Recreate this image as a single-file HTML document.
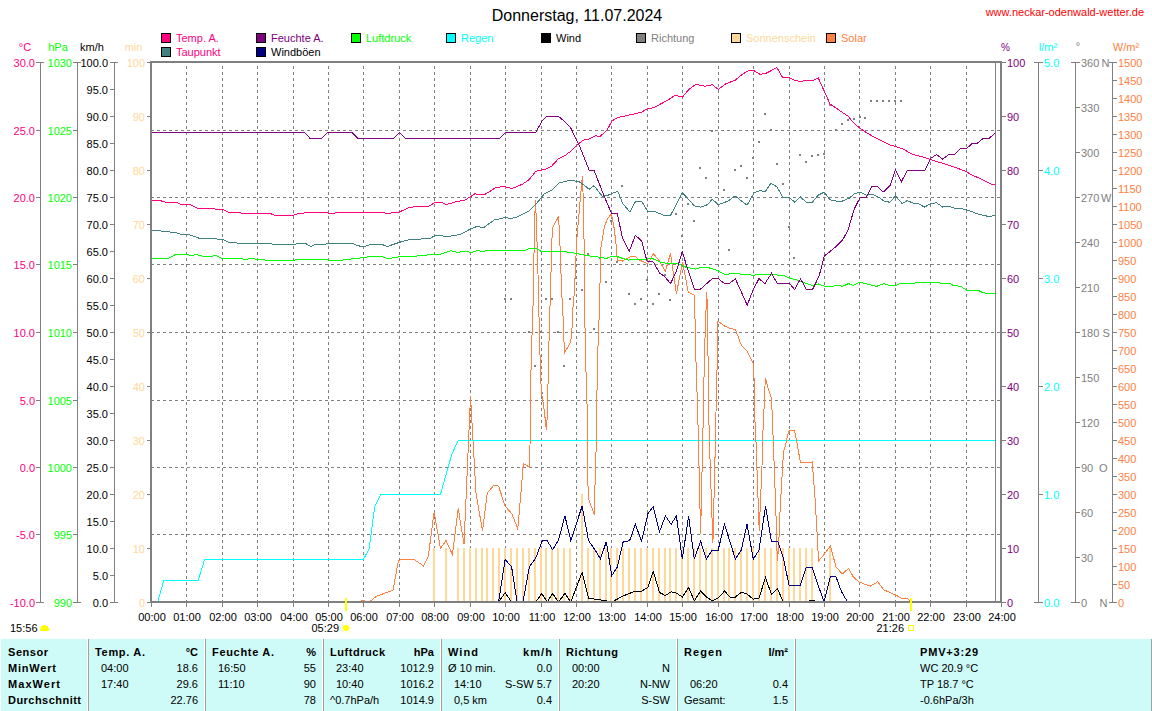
<!DOCTYPE html>
<html><head><meta charset="utf-8"><style>
html,body{margin:0;padding:0;background:#fff;width:1152px;height:711px;overflow:hidden}
svg{display:block;font-family:"Liberation Sans", sans-serif}
</style></head><body>
<svg width="1152" height="711" viewBox="0 0 1152 711">
<text x="577" y="21" fill="#000" text-anchor="middle" font-size="16" font-weight="normal" >Donnerstag, 11.07.2024</text>
<text x="1144" y="16" fill="#FF0000" text-anchor="end" font-size="11" font-weight="normal" >www.neckar-odenwald-wetter.de</text>
<rect x="161" y="33" width="10" height="10" fill="#000"/>
<rect x="162" y="34" width="8" height="8" fill="#FF0080"/>
<text x="176" y="42" fill="#FF0080" text-anchor="start" font-size="11" font-weight="normal" >Temp. A.</text>
<rect x="161" y="47" width="10" height="10" fill="#000"/>
<rect x="162" y="48" width="8" height="8" fill="#408080"/>
<text x="176" y="56" fill="#FF0080" text-anchor="start" font-size="11" font-weight="normal" >Taupunkt</text>
<rect x="256" y="33" width="10" height="10" fill="#000"/>
<rect x="257" y="34" width="8" height="8" fill="#800080"/>
<text x="271" y="42" fill="#800080" text-anchor="start" font-size="11" font-weight="normal" >Feuchte A.</text>
<rect x="256" y="47" width="10" height="10" fill="#000"/>
<rect x="257" y="48" width="8" height="8" fill="#000080"/>
<text x="271" y="56" fill="#000" text-anchor="start" font-size="11" font-weight="normal" >Windböen</text>
<rect x="351" y="33" width="10" height="10" fill="#000"/>
<rect x="352" y="34" width="8" height="8" fill="#00FF00"/>
<text x="366" y="42" fill="#00FF00" text-anchor="start" font-size="11" font-weight="normal" >Luftdruck</text>
<rect x="446" y="33" width="10" height="10" fill="#000"/>
<rect x="447" y="34" width="8" height="8" fill="#00FFFF"/>
<text x="461" y="42" fill="#00FFFF" text-anchor="start" font-size="11" font-weight="normal" >Regen</text>
<rect x="541" y="33" width="10" height="10" fill="#000"/>
<rect x="542" y="34" width="8" height="8" fill="#000"/>
<text x="556" y="42" fill="#000" text-anchor="start" font-size="11" font-weight="normal" >Wind</text>
<rect x="636" y="33" width="10" height="10" fill="#000"/>
<rect x="637" y="34" width="8" height="8" fill="#808080"/>
<text x="651" y="42" fill="#808080" text-anchor="start" font-size="11" font-weight="normal" >Richtung</text>
<rect x="731" y="33" width="10" height="10" fill="#000"/>
<rect x="732" y="34" width="8" height="8" fill="#FFD898"/>
<text x="746" y="42" fill="#FFD898" text-anchor="start" font-size="11" font-weight="normal" >Sonnenschein</text>
<rect x="826" y="33" width="10" height="10" fill="#000"/>
<rect x="827" y="34" width="8" height="8" fill="#FF8040"/>
<text x="841" y="42" fill="#FF8040" text-anchor="start" font-size="11" font-weight="normal" >Solar</text>
<text x="25" y="51" fill="#FF0080" text-anchor="middle" font-size="11" font-weight="normal" >°C</text>
<text x="58" y="51" fill="#00FF00" text-anchor="middle" font-size="11" font-weight="normal" >hPa</text>
<text x="92" y="51" fill="#000" text-anchor="middle" font-size="11" font-weight="normal" >km/h</text>
<text x="133.5" y="51" fill="#FFD898" text-anchor="middle" font-size="11" font-weight="normal" >min</text>
<text x="1005.5" y="51" fill="#800080" text-anchor="middle" font-size="10" font-weight="normal" >%</text>
<text x="1048" y="51" fill="#00FFFF" text-anchor="middle" font-size="11" font-weight="normal" >l/m²</text>
<text x="1078" y="50" fill="#808080" text-anchor="middle" font-size="11" font-weight="normal" >°</text>
<text x="1126" y="51" fill="#FF8040" text-anchor="middle" font-size="11" font-weight="normal" >W/m²</text>
<rect x="40" y="62" width="1" height="541" fill="#808080"/>
<rect x="36" y="602" width="5" height="1" fill="#808080"/>
<text x="35" y="607" fill="#FF0080" text-anchor="end" font-size="11" font-weight="normal" >-10.0</text>
<rect x="36" y="534" width="5" height="1" fill="#808080"/>
<text x="35" y="539" fill="#FF0080" text-anchor="end" font-size="11" font-weight="normal" >-5.0</text>
<rect x="36" y="467" width="5" height="1" fill="#808080"/>
<text x="35" y="472" fill="#FF0080" text-anchor="end" font-size="11" font-weight="normal" >0.0</text>
<rect x="36" y="400" width="5" height="1" fill="#808080"/>
<text x="35" y="405" fill="#FF0080" text-anchor="end" font-size="11" font-weight="normal" >5.0</text>
<rect x="36" y="332" width="5" height="1" fill="#808080"/>
<text x="35" y="337" fill="#FF0080" text-anchor="end" font-size="11" font-weight="normal" >10.0</text>
<rect x="36" y="264" width="5" height="1" fill="#808080"/>
<text x="35" y="269" fill="#FF0080" text-anchor="end" font-size="11" font-weight="normal" >15.0</text>
<rect x="36" y="197" width="5" height="1" fill="#808080"/>
<text x="35" y="202" fill="#FF0080" text-anchor="end" font-size="11" font-weight="normal" >20.0</text>
<rect x="36" y="130" width="5" height="1" fill="#808080"/>
<text x="35" y="135" fill="#FF0080" text-anchor="end" font-size="11" font-weight="normal" >25.0</text>
<rect x="36" y="62" width="5" height="1" fill="#808080"/>
<text x="35" y="67" fill="#FF0080" text-anchor="end" font-size="11" font-weight="normal" >30.0</text>
<rect x="40" y="62" width="4" height="1" fill="#808080"/>
<rect x="40" y="602" width="4" height="1" fill="#808080"/>
<rect x="77" y="62" width="1" height="541" fill="#808080"/>
<rect x="73" y="602" width="5" height="1" fill="#808080"/>
<text x="72" y="607" fill="#00FF00" text-anchor="end" font-size="11" font-weight="normal" >990</text>
<rect x="73" y="534" width="5" height="1" fill="#808080"/>
<text x="72" y="539" fill="#00FF00" text-anchor="end" font-size="11" font-weight="normal" >995</text>
<rect x="73" y="467" width="5" height="1" fill="#808080"/>
<text x="72" y="472" fill="#00FF00" text-anchor="end" font-size="11" font-weight="normal" >1000</text>
<rect x="73" y="400" width="5" height="1" fill="#808080"/>
<text x="72" y="405" fill="#00FF00" text-anchor="end" font-size="11" font-weight="normal" >1005</text>
<rect x="73" y="332" width="5" height="1" fill="#808080"/>
<text x="72" y="337" fill="#00FF00" text-anchor="end" font-size="11" font-weight="normal" >1010</text>
<rect x="73" y="264" width="5" height="1" fill="#808080"/>
<text x="72" y="269" fill="#00FF00" text-anchor="end" font-size="11" font-weight="normal" >1015</text>
<rect x="73" y="197" width="5" height="1" fill="#808080"/>
<text x="72" y="202" fill="#00FF00" text-anchor="end" font-size="11" font-weight="normal" >1020</text>
<rect x="73" y="130" width="5" height="1" fill="#808080"/>
<text x="72" y="135" fill="#00FF00" text-anchor="end" font-size="11" font-weight="normal" >1025</text>
<rect x="73" y="62" width="5" height="1" fill="#808080"/>
<text x="72" y="67" fill="#00FF00" text-anchor="end" font-size="11" font-weight="normal" >1030</text>
<rect x="77" y="62" width="4" height="1" fill="#808080"/>
<rect x="77" y="602" width="4" height="1" fill="#808080"/>
<rect x="114" y="62" width="1" height="541" fill="#808080"/>
<rect x="110" y="602" width="5" height="1" fill="#808080"/>
<text x="108" y="607" fill="#000" text-anchor="end" font-size="11" font-weight="normal" >0.0</text>
<rect x="110" y="575" width="5" height="1" fill="#808080"/>
<text x="108" y="580" fill="#000" text-anchor="end" font-size="11" font-weight="normal" >5.0</text>
<rect x="110" y="548" width="5" height="1" fill="#808080"/>
<text x="108" y="553" fill="#000" text-anchor="end" font-size="11" font-weight="normal" >10.0</text>
<rect x="110" y="521" width="5" height="1" fill="#808080"/>
<text x="108" y="526" fill="#000" text-anchor="end" font-size="11" font-weight="normal" >15.0</text>
<rect x="110" y="494" width="5" height="1" fill="#808080"/>
<text x="108" y="499" fill="#000" text-anchor="end" font-size="11" font-weight="normal" >20.0</text>
<rect x="110" y="467" width="5" height="1" fill="#808080"/>
<text x="108" y="472" fill="#000" text-anchor="end" font-size="11" font-weight="normal" >25.0</text>
<rect x="110" y="440" width="5" height="1" fill="#808080"/>
<text x="108" y="445" fill="#000" text-anchor="end" font-size="11" font-weight="normal" >30.0</text>
<rect x="110" y="413" width="5" height="1" fill="#808080"/>
<text x="108" y="418" fill="#000" text-anchor="end" font-size="11" font-weight="normal" >35.0</text>
<rect x="110" y="386" width="5" height="1" fill="#808080"/>
<text x="108" y="391" fill="#000" text-anchor="end" font-size="11" font-weight="normal" >40.0</text>
<rect x="110" y="359" width="5" height="1" fill="#808080"/>
<text x="108" y="364" fill="#000" text-anchor="end" font-size="11" font-weight="normal" >45.0</text>
<rect x="110" y="332" width="5" height="1" fill="#808080"/>
<text x="108" y="337" fill="#000" text-anchor="end" font-size="11" font-weight="normal" >50.0</text>
<rect x="110" y="305" width="5" height="1" fill="#808080"/>
<text x="108" y="310" fill="#000" text-anchor="end" font-size="11" font-weight="normal" >55.0</text>
<rect x="110" y="278" width="5" height="1" fill="#808080"/>
<text x="108" y="283" fill="#000" text-anchor="end" font-size="11" font-weight="normal" >60.0</text>
<rect x="110" y="251" width="5" height="1" fill="#808080"/>
<text x="108" y="256" fill="#000" text-anchor="end" font-size="11" font-weight="normal" >65.0</text>
<rect x="110" y="224" width="5" height="1" fill="#808080"/>
<text x="108" y="229" fill="#000" text-anchor="end" font-size="11" font-weight="normal" >70.0</text>
<rect x="110" y="197" width="5" height="1" fill="#808080"/>
<text x="108" y="202" fill="#000" text-anchor="end" font-size="11" font-weight="normal" >75.0</text>
<rect x="110" y="170" width="5" height="1" fill="#808080"/>
<text x="108" y="175" fill="#000" text-anchor="end" font-size="11" font-weight="normal" >80.0</text>
<rect x="110" y="143" width="5" height="1" fill="#808080"/>
<text x="108" y="148" fill="#000" text-anchor="end" font-size="11" font-weight="normal" >85.0</text>
<rect x="110" y="116" width="5" height="1" fill="#808080"/>
<text x="108" y="121" fill="#000" text-anchor="end" font-size="11" font-weight="normal" >90.0</text>
<rect x="110" y="89" width="5" height="1" fill="#808080"/>
<text x="108" y="94" fill="#000" text-anchor="end" font-size="11" font-weight="normal" >95.0</text>
<rect x="110" y="62" width="5" height="1" fill="#808080"/>
<text x="108" y="67" fill="#000" text-anchor="end" font-size="11" font-weight="normal" >100.0</text>
<rect x="114" y="62" width="4" height="1" fill="#808080"/>
<rect x="114" y="602" width="4" height="1" fill="#808080"/>
<rect x="147" y="602" width="4" height="1" fill="#808080"/>
<text x="145" y="607" fill="#FFD898" text-anchor="end" font-size="11" font-weight="normal" >0</text>
<rect x="147" y="548" width="4" height="1" fill="#808080"/>
<text x="145" y="553" fill="#FFD898" text-anchor="end" font-size="11" font-weight="normal" >10</text>
<rect x="147" y="494" width="4" height="1" fill="#808080"/>
<text x="145" y="499" fill="#FFD898" text-anchor="end" font-size="11" font-weight="normal" >20</text>
<rect x="147" y="440" width="4" height="1" fill="#808080"/>
<text x="145" y="445" fill="#FFD898" text-anchor="end" font-size="11" font-weight="normal" >30</text>
<rect x="147" y="386" width="4" height="1" fill="#808080"/>
<text x="145" y="391" fill="#FFD898" text-anchor="end" font-size="11" font-weight="normal" >40</text>
<rect x="147" y="332" width="4" height="1" fill="#808080"/>
<text x="145" y="337" fill="#FFD898" text-anchor="end" font-size="11" font-weight="normal" >50</text>
<rect x="147" y="278" width="4" height="1" fill="#808080"/>
<text x="145" y="283" fill="#FFD898" text-anchor="end" font-size="11" font-weight="normal" >60</text>
<rect x="147" y="224" width="4" height="1" fill="#808080"/>
<text x="145" y="229" fill="#FFD898" text-anchor="end" font-size="11" font-weight="normal" >70</text>
<rect x="147" y="170" width="4" height="1" fill="#808080"/>
<text x="145" y="175" fill="#FFD898" text-anchor="end" font-size="11" font-weight="normal" >80</text>
<rect x="147" y="116" width="4" height="1" fill="#808080"/>
<text x="145" y="121" fill="#FFD898" text-anchor="end" font-size="11" font-weight="normal" >90</text>
<rect x="147" y="62" width="4" height="1" fill="#808080"/>
<text x="145" y="67" fill="#FFD898" text-anchor="end" font-size="11" font-weight="normal" >100</text>
<rect x="1001" y="602" width="5" height="1" fill="#808080"/>
<text x="1007" y="607" fill="#800080" text-anchor="start" font-size="11" font-weight="normal" >0</text>
<rect x="1001" y="548" width="5" height="1" fill="#808080"/>
<text x="1007" y="553" fill="#800080" text-anchor="start" font-size="11" font-weight="normal" >10</text>
<rect x="1001" y="494" width="5" height="1" fill="#808080"/>
<text x="1007" y="499" fill="#800080" text-anchor="start" font-size="11" font-weight="normal" >20</text>
<rect x="1001" y="440" width="5" height="1" fill="#808080"/>
<text x="1007" y="445" fill="#800080" text-anchor="start" font-size="11" font-weight="normal" >30</text>
<rect x="1001" y="386" width="5" height="1" fill="#808080"/>
<text x="1007" y="391" fill="#800080" text-anchor="start" font-size="11" font-weight="normal" >40</text>
<rect x="1001" y="332" width="5" height="1" fill="#808080"/>
<text x="1007" y="337" fill="#800080" text-anchor="start" font-size="11" font-weight="normal" >50</text>
<rect x="1001" y="278" width="5" height="1" fill="#808080"/>
<text x="1007" y="283" fill="#800080" text-anchor="start" font-size="11" font-weight="normal" >60</text>
<rect x="1001" y="224" width="5" height="1" fill="#808080"/>
<text x="1007" y="229" fill="#800080" text-anchor="start" font-size="11" font-weight="normal" >70</text>
<rect x="1001" y="170" width="5" height="1" fill="#808080"/>
<text x="1007" y="175" fill="#800080" text-anchor="start" font-size="11" font-weight="normal" >80</text>
<rect x="1001" y="116" width="5" height="1" fill="#808080"/>
<text x="1007" y="121" fill="#800080" text-anchor="start" font-size="11" font-weight="normal" >90</text>
<rect x="1001" y="62" width="5" height="1" fill="#808080"/>
<text x="1007" y="67" fill="#800080" text-anchor="start" font-size="11" font-weight="normal" >100</text>
<rect x="1038" y="62" width="1" height="541" fill="#808080"/>
<rect x="1038" y="602" width="5" height="1" fill="#808080"/>
<text x="1044" y="607" fill="#00FFFF" text-anchor="start" font-size="11" font-weight="normal" >0.0</text>
<rect x="1038" y="494" width="5" height="1" fill="#808080"/>
<text x="1044" y="499" fill="#00FFFF" text-anchor="start" font-size="11" font-weight="normal" >1.0</text>
<rect x="1038" y="386" width="5" height="1" fill="#808080"/>
<text x="1044" y="391" fill="#00FFFF" text-anchor="start" font-size="11" font-weight="normal" >2.0</text>
<rect x="1038" y="278" width="5" height="1" fill="#808080"/>
<text x="1044" y="283" fill="#00FFFF" text-anchor="start" font-size="11" font-weight="normal" >3.0</text>
<rect x="1038" y="170" width="5" height="1" fill="#808080"/>
<text x="1044" y="175" fill="#00FFFF" text-anchor="start" font-size="11" font-weight="normal" >4.0</text>
<rect x="1038" y="62" width="5" height="1" fill="#808080"/>
<text x="1044" y="67" fill="#00FFFF" text-anchor="start" font-size="11" font-weight="normal" >5.0</text>
<rect x="1034" y="62" width="4" height="1" fill="#808080"/>
<rect x="1034" y="602" width="4" height="1" fill="#808080"/>
<rect x="1075" y="62" width="1" height="541" fill="#808080"/>
<rect x="1075" y="602" width="5" height="1" fill="#808080"/>
<text x="1081" y="607" fill="#808080" text-anchor="start" font-size="11" font-weight="normal" >0</text>
<text x="1099.5" y="607" fill="#808080" text-anchor="start" font-size="11" font-weight="normal" >N</text>
<rect x="1075" y="557" width="5" height="1" fill="#808080"/>
<text x="1081" y="562" fill="#808080" text-anchor="start" font-size="11" font-weight="normal" >30</text>
<rect x="1075" y="512" width="5" height="1" fill="#808080"/>
<text x="1081" y="517" fill="#808080" text-anchor="start" font-size="11" font-weight="normal" >60</text>
<rect x="1075" y="467" width="5" height="1" fill="#808080"/>
<text x="1081" y="472" fill="#808080" text-anchor="start" font-size="11" font-weight="normal" >90</text>
<text x="1099" y="472" fill="#808080" text-anchor="start" font-size="11" font-weight="normal" >O</text>
<rect x="1075" y="422" width="5" height="1" fill="#808080"/>
<text x="1081" y="427" fill="#808080" text-anchor="start" font-size="11" font-weight="normal" >120</text>
<rect x="1075" y="377" width="5" height="1" fill="#808080"/>
<text x="1081" y="382" fill="#808080" text-anchor="start" font-size="11" font-weight="normal" >150</text>
<rect x="1075" y="332" width="5" height="1" fill="#808080"/>
<text x="1081" y="337" fill="#808080" text-anchor="start" font-size="11" font-weight="normal" >180</text>
<text x="1102.5" y="337" fill="#808080" text-anchor="start" font-size="11" font-weight="normal" >S</text>
<rect x="1075" y="287" width="5" height="1" fill="#808080"/>
<text x="1081" y="292" fill="#808080" text-anchor="start" font-size="11" font-weight="normal" >210</text>
<rect x="1075" y="242" width="5" height="1" fill="#808080"/>
<text x="1081" y="247" fill="#808080" text-anchor="start" font-size="11" font-weight="normal" >240</text>
<rect x="1075" y="197" width="5" height="1" fill="#808080"/>
<text x="1081" y="202" fill="#808080" text-anchor="start" font-size="11" font-weight="normal" >270</text>
<text x="1101" y="202" fill="#808080" text-anchor="start" font-size="11" font-weight="normal" >W</text>
<rect x="1075" y="152" width="5" height="1" fill="#808080"/>
<text x="1081" y="157" fill="#808080" text-anchor="start" font-size="11" font-weight="normal" >300</text>
<rect x="1075" y="107" width="5" height="1" fill="#808080"/>
<text x="1081" y="112" fill="#808080" text-anchor="start" font-size="11" font-weight="normal" >330</text>
<rect x="1075" y="62" width="5" height="1" fill="#808080"/>
<text x="1081" y="67" fill="#808080" text-anchor="start" font-size="11" font-weight="normal" >360</text>
<text x="1101.5" y="67" fill="#808080" text-anchor="start" font-size="11" font-weight="normal" >N</text>
<rect x="1071" y="62" width="4" height="1" fill="#808080"/>
<rect x="1071" y="602" width="4" height="1" fill="#808080"/>
<rect x="1112" y="62" width="1" height="541" fill="#808080"/>
<rect x="1112" y="602" width="5" height="1" fill="#808080"/>
<text x="1118" y="607" fill="#FF8040" text-anchor="start" font-size="11" font-weight="normal" >0</text>
<rect x="1112" y="584" width="5" height="1" fill="#808080"/>
<text x="1118" y="589" fill="#FF8040" text-anchor="start" font-size="11" font-weight="normal" >50</text>
<rect x="1112" y="566" width="5" height="1" fill="#808080"/>
<text x="1118" y="571" fill="#FF8040" text-anchor="start" font-size="11" font-weight="normal" >100</text>
<rect x="1112" y="548" width="5" height="1" fill="#808080"/>
<text x="1118" y="553" fill="#FF8040" text-anchor="start" font-size="11" font-weight="normal" >150</text>
<rect x="1112" y="530" width="5" height="1" fill="#808080"/>
<text x="1118" y="535" fill="#FF8040" text-anchor="start" font-size="11" font-weight="normal" >200</text>
<rect x="1112" y="512" width="5" height="1" fill="#808080"/>
<text x="1118" y="517" fill="#FF8040" text-anchor="start" font-size="11" font-weight="normal" >250</text>
<rect x="1112" y="494" width="5" height="1" fill="#808080"/>
<text x="1118" y="499" fill="#FF8040" text-anchor="start" font-size="11" font-weight="normal" >300</text>
<rect x="1112" y="476" width="5" height="1" fill="#808080"/>
<text x="1118" y="481" fill="#FF8040" text-anchor="start" font-size="11" font-weight="normal" >350</text>
<rect x="1112" y="458" width="5" height="1" fill="#808080"/>
<text x="1118" y="463" fill="#FF8040" text-anchor="start" font-size="11" font-weight="normal" >400</text>
<rect x="1112" y="440" width="5" height="1" fill="#808080"/>
<text x="1118" y="445" fill="#FF8040" text-anchor="start" font-size="11" font-weight="normal" >450</text>
<rect x="1112" y="422" width="5" height="1" fill="#808080"/>
<text x="1118" y="427" fill="#FF8040" text-anchor="start" font-size="11" font-weight="normal" >500</text>
<rect x="1112" y="404" width="5" height="1" fill="#808080"/>
<text x="1118" y="409" fill="#FF8040" text-anchor="start" font-size="11" font-weight="normal" >550</text>
<rect x="1112" y="386" width="5" height="1" fill="#808080"/>
<text x="1118" y="391" fill="#FF8040" text-anchor="start" font-size="11" font-weight="normal" >600</text>
<rect x="1112" y="368" width="5" height="1" fill="#808080"/>
<text x="1118" y="373" fill="#FF8040" text-anchor="start" font-size="11" font-weight="normal" >650</text>
<rect x="1112" y="350" width="5" height="1" fill="#808080"/>
<text x="1118" y="355" fill="#FF8040" text-anchor="start" font-size="11" font-weight="normal" >700</text>
<rect x="1112" y="332" width="5" height="1" fill="#808080"/>
<text x="1118" y="337" fill="#FF8040" text-anchor="start" font-size="11" font-weight="normal" >750</text>
<rect x="1112" y="314" width="5" height="1" fill="#808080"/>
<text x="1118" y="319" fill="#FF8040" text-anchor="start" font-size="11" font-weight="normal" >800</text>
<rect x="1112" y="296" width="5" height="1" fill="#808080"/>
<text x="1118" y="301" fill="#FF8040" text-anchor="start" font-size="11" font-weight="normal" >850</text>
<rect x="1112" y="278" width="5" height="1" fill="#808080"/>
<text x="1118" y="283" fill="#FF8040" text-anchor="start" font-size="11" font-weight="normal" >900</text>
<rect x="1112" y="260" width="5" height="1" fill="#808080"/>
<text x="1118" y="265" fill="#FF8040" text-anchor="start" font-size="11" font-weight="normal" >950</text>
<rect x="1112" y="242" width="5" height="1" fill="#808080"/>
<text x="1118" y="247" fill="#FF8040" text-anchor="start" font-size="11" font-weight="normal" >1000</text>
<rect x="1112" y="224" width="5" height="1" fill="#808080"/>
<text x="1118" y="229" fill="#FF8040" text-anchor="start" font-size="11" font-weight="normal" >1050</text>
<rect x="1112" y="206" width="5" height="1" fill="#808080"/>
<text x="1118" y="211" fill="#FF8040" text-anchor="start" font-size="11" font-weight="normal" >1100</text>
<rect x="1112" y="188" width="5" height="1" fill="#808080"/>
<text x="1118" y="193" fill="#FF8040" text-anchor="start" font-size="11" font-weight="normal" >1150</text>
<rect x="1112" y="170" width="5" height="1" fill="#808080"/>
<text x="1118" y="175" fill="#FF8040" text-anchor="start" font-size="11" font-weight="normal" >1200</text>
<rect x="1112" y="152" width="5" height="1" fill="#808080"/>
<text x="1118" y="157" fill="#FF8040" text-anchor="start" font-size="11" font-weight="normal" >1250</text>
<rect x="1112" y="134" width="5" height="1" fill="#808080"/>
<text x="1118" y="139" fill="#FF8040" text-anchor="start" font-size="11" font-weight="normal" >1300</text>
<rect x="1112" y="116" width="5" height="1" fill="#808080"/>
<text x="1118" y="121" fill="#FF8040" text-anchor="start" font-size="11" font-weight="normal" >1350</text>
<rect x="1112" y="98" width="5" height="1" fill="#808080"/>
<text x="1118" y="103" fill="#FF8040" text-anchor="start" font-size="11" font-weight="normal" >1400</text>
<rect x="1112" y="80" width="5" height="1" fill="#808080"/>
<text x="1118" y="85" fill="#FF8040" text-anchor="start" font-size="11" font-weight="normal" >1450</text>
<rect x="1112" y="62" width="5" height="1" fill="#808080"/>
<text x="1118" y="67" fill="#FF8040" text-anchor="start" font-size="11" font-weight="normal" >1500</text>
<rect x="1109" y="62" width="3" height="1" fill="#808080"/>
<rect x="1109" y="602" width="3" height="1" fill="#808080"/>
<line x1="186.5" y1="66" x2="186.5" y2="601" stroke="#808080" stroke-width="1" stroke-dasharray="3 3"/>
<line x1="222.5" y1="66" x2="222.5" y2="601" stroke="#808080" stroke-width="1" stroke-dasharray="3 3"/>
<line x1="257.5" y1="66" x2="257.5" y2="601" stroke="#808080" stroke-width="1" stroke-dasharray="3 3"/>
<line x1="293.5" y1="66" x2="293.5" y2="601" stroke="#808080" stroke-width="1" stroke-dasharray="3 3"/>
<line x1="328.5" y1="66" x2="328.5" y2="601" stroke="#808080" stroke-width="1" stroke-dasharray="3 3"/>
<line x1="363.5" y1="66" x2="363.5" y2="601" stroke="#808080" stroke-width="1" stroke-dasharray="3 3"/>
<line x1="399.5" y1="66" x2="399.5" y2="601" stroke="#808080" stroke-width="1" stroke-dasharray="3 3"/>
<line x1="434.5" y1="66" x2="434.5" y2="601" stroke="#808080" stroke-width="1" stroke-dasharray="3 3"/>
<line x1="470.5" y1="66" x2="470.5" y2="601" stroke="#808080" stroke-width="1" stroke-dasharray="3 3"/>
<line x1="505.5" y1="66" x2="505.5" y2="601" stroke="#808080" stroke-width="1" stroke-dasharray="3 3"/>
<line x1="541.5" y1="66" x2="541.5" y2="601" stroke="#808080" stroke-width="1" stroke-dasharray="3 3"/>
<line x1="576.5" y1="66" x2="576.5" y2="601" stroke="#808080" stroke-width="1" stroke-dasharray="3 3"/>
<line x1="611.5" y1="66" x2="611.5" y2="601" stroke="#808080" stroke-width="1" stroke-dasharray="3 3"/>
<line x1="647.5" y1="66" x2="647.5" y2="601" stroke="#808080" stroke-width="1" stroke-dasharray="3 3"/>
<line x1="682.5" y1="66" x2="682.5" y2="601" stroke="#808080" stroke-width="1" stroke-dasharray="3 3"/>
<line x1="718.5" y1="66" x2="718.5" y2="601" stroke="#808080" stroke-width="1" stroke-dasharray="3 3"/>
<line x1="753.5" y1="66" x2="753.5" y2="601" stroke="#808080" stroke-width="1" stroke-dasharray="3 3"/>
<line x1="789.5" y1="66" x2="789.5" y2="601" stroke="#808080" stroke-width="1" stroke-dasharray="3 3"/>
<line x1="824.5" y1="66" x2="824.5" y2="601" stroke="#808080" stroke-width="1" stroke-dasharray="3 3"/>
<line x1="859.5" y1="66" x2="859.5" y2="601" stroke="#808080" stroke-width="1" stroke-dasharray="3 3"/>
<line x1="895.5" y1="66" x2="895.5" y2="601" stroke="#808080" stroke-width="1" stroke-dasharray="3 3"/>
<line x1="930.5" y1="66" x2="930.5" y2="601" stroke="#808080" stroke-width="1" stroke-dasharray="3 3"/>
<line x1="966.5" y1="66" x2="966.5" y2="601" stroke="#808080" stroke-width="1" stroke-dasharray="3 3"/>
<line x1="151" y1="534.5" x2="1000" y2="534.5" stroke="#808080" stroke-width="1" stroke-dasharray="3 3"/>
<line x1="151" y1="467.5" x2="1000" y2="467.5" stroke="#808080" stroke-width="1" stroke-dasharray="3 3"/>
<line x1="151" y1="400.5" x2="1000" y2="400.5" stroke="#808080" stroke-width="1" stroke-dasharray="3 3"/>
<line x1="151" y1="332.5" x2="1000" y2="332.5" stroke="#808080" stroke-width="1" stroke-dasharray="3 3"/>
<line x1="151" y1="264.5" x2="1000" y2="264.5" stroke="#808080" stroke-width="1" stroke-dasharray="3 3"/>
<line x1="151" y1="197.5" x2="1000" y2="197.5" stroke="#808080" stroke-width="1" stroke-dasharray="3 3"/>
<line x1="151" y1="130.5" x2="1000" y2="130.5" stroke="#808080" stroke-width="1" stroke-dasharray="3 3"/>
<rect x="433" y="548" width="2" height="54" fill="#FFD898"/>
<rect x="445" y="548" width="2" height="54" fill="#FFD898"/>
<rect x="457" y="548" width="2" height="54" fill="#FFD898"/>
<rect x="463" y="548" width="2" height="54" fill="#FFD898"/>
<rect x="469" y="548" width="2" height="54" fill="#FFD898"/>
<rect x="475" y="548" width="2" height="54" fill="#FFD898"/>
<rect x="481" y="548" width="2" height="54" fill="#FFD898"/>
<rect x="486" y="548" width="2" height="54" fill="#FFD898"/>
<rect x="492" y="548" width="2" height="54" fill="#FFD898"/>
<rect x="498" y="548" width="2" height="54" fill="#FFD898"/>
<rect x="504" y="548" width="2" height="54" fill="#FFD898"/>
<rect x="510" y="548" width="2" height="54" fill="#FFD898"/>
<rect x="516" y="548" width="2" height="54" fill="#FFD898"/>
<rect x="522" y="548" width="2" height="54" fill="#FFD898"/>
<rect x="528" y="548" width="2" height="54" fill="#FFD898"/>
<rect x="534" y="548" width="2" height="54" fill="#FFD898"/>
<rect x="540" y="548" width="2" height="54" fill="#FFD898"/>
<rect x="545" y="548" width="2" height="54" fill="#FFD898"/>
<rect x="551" y="548" width="2" height="54" fill="#FFD898"/>
<rect x="557" y="548" width="2" height="54" fill="#FFD898"/>
<rect x="563" y="548" width="2" height="54" fill="#FFD898"/>
<rect x="569" y="548" width="2" height="54" fill="#FFD898"/>
<rect x="581" y="494" width="2" height="108" fill="#FFD898"/>
<rect x="587" y="548" width="2" height="54" fill="#FFD898"/>
<rect x="593" y="548" width="2" height="54" fill="#FFD898"/>
<rect x="599" y="548" width="2" height="54" fill="#FFD898"/>
<rect x="605" y="548" width="2" height="54" fill="#FFD898"/>
<rect x="610" y="548" width="2" height="54" fill="#FFD898"/>
<rect x="616" y="548" width="2" height="54" fill="#FFD898"/>
<rect x="622" y="548" width="2" height="54" fill="#FFD898"/>
<rect x="628" y="548" width="2" height="54" fill="#FFD898"/>
<rect x="634" y="548" width="2" height="54" fill="#FFD898"/>
<rect x="640" y="548" width="2" height="54" fill="#FFD898"/>
<rect x="646" y="548" width="2" height="54" fill="#FFD898"/>
<rect x="652" y="548" width="2" height="54" fill="#FFD898"/>
<rect x="658" y="548" width="2" height="54" fill="#FFD898"/>
<rect x="664" y="548" width="2" height="54" fill="#FFD898"/>
<rect x="669" y="548" width="2" height="54" fill="#FFD898"/>
<rect x="675" y="548" width="2" height="54" fill="#FFD898"/>
<rect x="681" y="548" width="2" height="54" fill="#FFD898"/>
<rect x="687" y="548" width="2" height="54" fill="#FFD898"/>
<rect x="693" y="548" width="2" height="54" fill="#FFD898"/>
<rect x="699" y="548" width="2" height="54" fill="#FFD898"/>
<rect x="705" y="548" width="2" height="54" fill="#FFD898"/>
<rect x="711" y="548" width="2" height="54" fill="#FFD898"/>
<rect x="717" y="548" width="2" height="54" fill="#FFD898"/>
<rect x="723" y="548" width="2" height="54" fill="#FFD898"/>
<rect x="728" y="548" width="2" height="54" fill="#FFD898"/>
<rect x="734" y="548" width="2" height="54" fill="#FFD898"/>
<rect x="740" y="548" width="2" height="54" fill="#FFD898"/>
<rect x="746" y="548" width="2" height="54" fill="#FFD898"/>
<rect x="752" y="548" width="2" height="54" fill="#FFD898"/>
<rect x="758" y="548" width="2" height="54" fill="#FFD898"/>
<rect x="764" y="548" width="2" height="54" fill="#FFD898"/>
<rect x="770" y="548" width="2" height="54" fill="#FFD898"/>
<rect x="776" y="548" width="2" height="54" fill="#FFD898"/>
<rect x="782" y="548" width="2" height="54" fill="#FFD898"/>
<rect x="788" y="548" width="2" height="54" fill="#FFD898"/>
<rect x="793" y="548" width="2" height="54" fill="#FFD898"/>
<rect x="799" y="548" width="2" height="54" fill="#FFD898"/>
<rect x="805" y="548" width="2" height="54" fill="#FFD898"/>
<rect x="811" y="548" width="2" height="54" fill="#FFD898"/>
<rect x="829" y="548" width="2" height="54" fill="#FFD898"/>
<g shape-rendering="crispEdges">
<rect x="504" y="298" width="2" height="2" fill="#808080"/>
<rect x="510" y="298" width="2" height="2" fill="#808080"/>
<rect x="528" y="331" width="2" height="2" fill="#808080"/>
<rect x="534" y="365" width="2" height="2" fill="#808080"/>
<rect x="539" y="331" width="2" height="2" fill="#808080"/>
<rect x="541" y="392" width="2" height="2" fill="#808080"/>
<rect x="545" y="298" width="2" height="2" fill="#808080"/>
<rect x="551" y="298" width="2" height="2" fill="#808080"/>
<rect x="557" y="331" width="2" height="2" fill="#808080"/>
<rect x="563" y="365" width="2" height="2" fill="#808080"/>
<rect x="569" y="298" width="2" height="2" fill="#808080"/>
<rect x="575" y="277" width="2" height="2" fill="#808080"/>
<rect x="581" y="289" width="2" height="2" fill="#808080"/>
<rect x="587" y="253" width="2" height="2" fill="#808080"/>
<rect x="593" y="328" width="2" height="2" fill="#808080"/>
<rect x="599" y="257" width="2" height="2" fill="#808080"/>
<rect x="605" y="281" width="2" height="2" fill="#808080"/>
<rect x="610" y="220" width="2" height="2" fill="#808080"/>
<rect x="616" y="261" width="2" height="2" fill="#808080"/>
<rect x="621" y="185" width="2" height="2" fill="#808080"/>
<rect x="628" y="293" width="2" height="2" fill="#808080"/>
<rect x="634" y="303" width="2" height="2" fill="#808080"/>
<rect x="640" y="298" width="2" height="2" fill="#808080"/>
<rect x="646" y="279" width="2" height="2" fill="#808080"/>
<rect x="652" y="303" width="2" height="2" fill="#808080"/>
<rect x="658" y="293" width="2" height="2" fill="#808080"/>
<rect x="664" y="274" width="2" height="2" fill="#808080"/>
<rect x="669" y="299" width="2" height="2" fill="#808080"/>
<rect x="675" y="213" width="2" height="2" fill="#808080"/>
<rect x="681" y="235" width="2" height="2" fill="#808080"/>
<rect x="687" y="203" width="2" height="2" fill="#808080"/>
<rect x="693" y="220" width="2" height="2" fill="#808080"/>
<rect x="699" y="167" width="2" height="2" fill="#808080"/>
<rect x="705" y="177" width="2" height="2" fill="#808080"/>
<rect x="711" y="130" width="2" height="2" fill="#808080"/>
<rect x="717" y="339" width="2" height="2" fill="#808080"/>
<rect x="723" y="189" width="2" height="2" fill="#808080"/>
<rect x="728" y="249" width="2" height="2" fill="#808080"/>
<rect x="734" y="169" width="2" height="2" fill="#808080"/>
<rect x="740" y="165" width="2" height="2" fill="#808080"/>
<rect x="746" y="177" width="2" height="2" fill="#808080"/>
<rect x="752" y="157" width="2" height="2" fill="#808080"/>
<rect x="758" y="141" width="2" height="2" fill="#808080"/>
<rect x="764" y="113" width="2" height="2" fill="#808080"/>
<rect x="770" y="129" width="2" height="2" fill="#808080"/>
<rect x="776" y="163" width="2" height="2" fill="#808080"/>
<rect x="782" y="183" width="2" height="2" fill="#808080"/>
<rect x="788" y="226" width="2" height="2" fill="#808080"/>
<rect x="793" y="257" width="2" height="2" fill="#808080"/>
<rect x="799" y="154" width="2" height="2" fill="#808080"/>
<rect x="805" y="161" width="2" height="2" fill="#808080"/>
<rect x="811" y="155" width="2" height="2" fill="#808080"/>
<rect x="817" y="154" width="2" height="2" fill="#808080"/>
<rect x="823" y="153" width="2" height="2" fill="#808080"/>
<rect x="829" y="104" width="2" height="2" fill="#808080"/>
<rect x="835" y="129" width="2" height="2" fill="#808080"/>
<rect x="841" y="123" width="2" height="2" fill="#808080"/>
<rect x="847" y="119" width="2" height="2" fill="#808080"/>
<rect x="853" y="118" width="2" height="2" fill="#808080"/>
<rect x="859" y="116" width="2" height="2" fill="#808080"/>
<rect x="864" y="117" width="2" height="2" fill="#808080"/>
<rect x="870" y="100" width="2" height="2" fill="#808080"/>
<rect x="876" y="100" width="2" height="2" fill="#808080"/>
<rect x="882" y="100" width="2" height="2" fill="#808080"/>
<rect x="888" y="100" width="2" height="2" fill="#808080"/>
<rect x="894" y="100" width="2" height="2" fill="#808080"/>
<rect x="900" y="100" width="2" height="2" fill="#808080"/>
<polyline points="157.7,602.0 163.8,580.4 198.2,580.4 204.6,559.5 363.4,559.5 369.2,548.5 374.7,506.5 381.1,494.3 440.5,494.3 451.7,454.6 458.2,440.5 995.0,440.5" fill="none" stroke="#00FFFF" stroke-width="1" stroke-linejoin="miter" stroke-linecap="square"/>
<polyline points="151.0,602.0 360.1,601.6 362.6,600.5 364.3,600.5 366.1,601.4 370.3,601.4 373.8,598.0 376.6,596.3 380.0,594.9 382.0,594.2 393.0,590.2 398.5,560.4 401.2,559.5 414.0,559.5 423.5,565.9 428.3,556.7 434.1,512.0 440.5,548.5 446.0,540.5 452.4,554.6 458.2,508.4 464.0,544.3 470.5,396.2 476.0,493.2 482.5,531.0 487.3,493.2 493.8,485.1 498.6,486.1 505.1,506.1 511.8,513.7 516.9,526.4 517.7,530.0 521.1,491.0 523.3,463.6 525.6,464.8 529.5,467.3 530.0,445.4 531.2,356.6 532.9,311.9 534.6,222.3 535.4,200.4 536.3,218.9 538.5,290.0 538.8,309.4 539.6,340.6 540.5,371.0 541.3,391.2 544.2,410.0 546.4,430.2 547.6,410.0 548.1,379.4 548.9,345.7 549.8,312.8 552.3,228.2 558.2,217.2 559.4,229.0 561.6,290.0 563.2,319.5 564.4,353.2 570.5,342.3 571.7,334.7 572.9,308.6 574.5,290.0 576.7,240.8 579.3,210.5 582.3,176.4 583.5,203.7 584.3,257.7 584.7,311.1 585.7,362.5 587.4,416.7 587.4,470.7 588.5,498.5 594.5,515.4 594.8,492.6 596.1,448.8 597.5,359.2 599.2,315.3 600.9,247.6 604.6,225.7 607.9,218.1 611.3,214.2 613.8,225.7 616.4,246.7 617.2,260.2 622.3,261.1 629.9,256.9 634.9,256.4 640.1,260.4 647.7,263.7 653.6,253.6 659.5,261.2 665.4,271.3 670.5,253.3 673.0,270.5 676.4,293.8 682.6,262.0 688.2,292.1 694.4,295.4 694.9,314.3 695.8,355.2 697.1,394.8 698.3,435.3 700.6,533.8 702.9,433.6 703.7,393.1 704.5,353.5 705.9,312.6 706.7,292.4 707.6,312.6 708.4,395.7 709.3,438.7 712.9,543.3 715.2,450.5 716.0,412.5 716.9,375.4 718.0,321.1 724.5,326.1 729.5,328.2 735.4,329.5 741.3,345.1 746.4,350.1 753.1,362.8 754.0,378.0 754.0,404.9 755.7,433.6 759.2,530.6 762.0,466.3 762.5,441.0 763.7,416.5 764.7,391.2 765.4,378.6 765.9,379.4 767.6,387.0 771.5,398.0 772.1,412.3 773.2,439.3 775.8,509.4 777.3,560.6 778.7,546.8 779.7,517.3 782.8,462.9 783.6,451.9 786.1,442.6 787.8,434.2 789.5,430.5 794.6,430.5 796.3,439.3 800.5,462.9 808.9,462.9 812.3,462.0 815.1,499.5 817.1,533.0 818.5,561.0 824.0,554.7 830.5,545.8 835.8,566.5 842.3,574.0 848.6,568.4 853.5,577.3 859.4,582.2 870.3,586.2 877.7,581.8 883.6,589.7 895.4,594.9 901.8,598.4 907.5,598.4 910.6,601.3" fill="none" stroke="#FF8040" stroke-width="1" stroke-linejoin="miter" stroke-linecap="square"/>
<polyline points="151.0,258.3 159.6,258.3 164.4,259.0 169.1,257.9 175.1,254.7 185.9,254.3 190.7,255.5 196.6,254.5 202.6,256.2 211.0,256.4 215.8,255.5 221.8,258.3 238.5,258.3 245.7,259.5 250.5,258.3 257.6,259.5 267.2,260.2 293.5,260.2 298.3,259.5 327.0,259.5 331.8,260.7 341.3,260.2 350.9,259.0 358.1,258.3 369.6,256.7 381.5,256.7 387.5,258.3 393.5,257.9 399.5,256.7 415.0,256.2 427.0,255.0 440.1,254.3 450.9,250.7 458.1,252.4 465.2,251.2 471.2,252.4 477.2,250.7 483.2,251.4 486.8,250.7 524.5,250.6 529.5,248.4 536.3,248.4 540.5,251.0 544.7,251.8 565.8,251.8 576.7,253.5 587.7,255.7 599.5,257.2 606.3,258.5 611.3,256.5 618.1,256.9 628.2,260.2 635.1,259.0 646.0,259.5 651.9,258.3 662.0,262.9 677.2,263.4 685.7,267.1 695.8,269.1 700.8,267.4 707.6,267.4 717.7,270.5 724.5,274.4 734.6,273.5 753.1,275.2 763.2,274.2 783.6,275.4 789.5,278.0 797.1,280.0 812.3,285.5 818.2,283.9 824.9,286.4 830.8,286.4 839.3,285.5 842.6,286.4 848.5,283.5 852.8,285.5 859.5,282.2 868.0,284.2 876.4,286.4 884.0,283.5 889.0,285.5 896.2,285.5 900.0,283.4 914.4,283.4 915.8,282.5 939.7,282.5 940.6,283.4 949.7,283.4 953.5,285.5 960.7,286.3 966.4,290.1 978.8,290.6 982.6,292.5 987.4,293.5 995.0,293.5" fill="none" stroke="#00FF00" stroke-width="1" stroke-linejoin="miter" stroke-linecap="square"/>
<polyline points="151.0,230.4 159.6,230.8 176.3,232.7 181.1,234.4 189.5,234.7 199.0,238.2 212.2,238.7 223.0,239.4 228.9,242.3 243.3,243.5 269.6,243.5 274.4,244.5 293.5,244.5 298.3,243.5 305.5,243.5 310.7,246.4 315.0,244.7 324.6,244.2 328.2,243.5 353.3,243.5 358.1,245.9 365.0,246.4 369.6,244.7 382.7,244.7 387.5,246.4 399.5,242.3 410.2,239.4 429.4,238.7 435.3,235.6 441.3,235.6 446.6,236.8 460.5,234.4 470.0,229.2 476.0,226.8 484.4,227.2 493.9,220.1 504.7,217.7 511.9,218.4 517.9,216.7 529.8,210.5 537.0,202.8 544.2,194.0 552.5,189.7 558.5,183.2 570.5,180.1 579.6,182.0 583.2,184.4 589.1,189.2 593.9,185.6 602.3,196.3 608.3,195.1 617.8,191.1 622.6,203.5 629.8,211.9 635.8,201.1 641.8,201.6 647.7,211.2 653.7,211.2 663.3,215.0 670.5,215.5 682.4,192.7 694.4,205.9 700.4,207.1 707.5,204.7 712.3,199.2 718.3,204.7 727.9,201.1 735.0,195.9 747.0,205.2 754.2,192.7 760.2,190.4 764.9,192.0 770.9,183.2 776.9,186.8 782.9,197.5 789.6,197.5 794.8,202.3 800.3,196.8 806.3,202.3 812.3,202.3 818.3,195.1 824.2,192.2 830.2,199.9 836.2,201.1 842.2,201.1 849.3,198.2 854.1,193.9 860.1,192.2 866.1,195.1 872.1,193.9 878.0,196.8 884.0,201.1 890.0,202.3 895.5,195.8 902.0,203.5 907.2,200.6 912.7,203.0 918.7,204.0 924.7,207.1 930.6,203.5 936.6,202.8 942.6,207.1 948.6,206.3 954.6,208.3 961.7,208.7 968.9,210.6 978.5,214.2 989.2,216.6 995.0,215.4" fill="none" stroke="#408080" stroke-width="1" stroke-linejoin="miter" stroke-linecap="square"/>
<polyline points="151.0,200.5 159.6,200.5 166.7,202.4 176.3,202.4 181.1,204.3 189.5,204.3 197.8,208.3 211.0,208.8 223.0,209.5 228.9,212.4 243.3,213.1 269.6,213.1 274.4,215.3 293.5,215.3 298.3,213.4 312.6,212.4 324.6,212.4 328.2,213.1 381.5,212.4 387.5,213.4 399.5,211.9 410.2,207.2 429.4,206.0 435.3,202.4 441.3,202.4 446.6,204.5 455.7,201.9 465.2,200.0 474.8,193.8 480.8,194.7 485.6,194.0 496.3,187.3 504.7,186.6 511.9,188.5 522.6,184.2 528.6,180.1 535.8,171.3 545.4,169.4 551.3,166.5 558.5,158.6 565.7,155.0 570.5,151.4 577.2,144.9 583.2,140.1 589.1,138.9 595.1,135.8 599.9,136.5 607.1,130.1 611.9,121.0 617.8,117.4 626.2,115.7 634.6,113.8 641.8,112.1 647.7,108.6 653.7,107.8 660.9,103.8 666.9,100.7 675.2,95.2 682.4,97.1 688.4,89.9 695.6,84.4 705.1,86.3 712.3,84.6 718.3,89.4 725.5,83.9 735.0,80.3 742.2,74.4 748.2,70.8 754.2,70.8 760.2,74.4 766.1,73.2 776.9,67.7 782.9,77.9 789.6,77.9 794.3,80.3 800.3,81.5 806.3,80.3 813.5,80.3 818.3,77.9 824.2,91.1 830.2,104.2 848.1,116.2 854.1,123.4 861.3,129.3 870.9,135.3 880.4,140.1 890.0,144.9 902.0,148.5 912.7,154.5 922.3,156.8 931.8,160.0 945.0,164.0 955.8,167.6 965.3,171.2 972.5,175.3 983.3,180.0 990.4,183.9 995.0,184.8" fill="none" stroke="#FF0080" stroke-width="1" stroke-linejoin="miter" stroke-linecap="square"/>
<polyline points="151.0,132.3 304.3,132.3 310.0,138.3 322.0,138.3 328.0,132.3 352.0,132.3 358.0,138.3 393.5,138.3 399.5,132.3 405.4,138.3 499.9,138.3 505.9,132.3 535.8,132.3 541.8,121.5 546.6,116.3 558.5,116.3 564.5,121.5 570.5,127.5 579.6,146.1 589.1,170.0 593.9,170.0 604.7,197.5 611.4,213.2 617.1,213.2 622.4,237.5 629.2,251.2 635.4,235.4 641.8,241.0 646.9,261.0 653.3,262.0 659.5,273.0 664.6,276.4 670.5,283.6 676.4,271.3 682.3,251.6 688.2,271.0 694.4,289.4 700.2,289.4 712.6,278.4 718.0,278.4 724.5,283.6 729.2,283.6 735.4,278.9 747.2,305.1 753.1,289.9 759.0,278.6 764.9,283.6 771.5,273.4 777.4,283.5 789.5,283.5 794.6,289.4 800.5,278.8 806.4,289.4 812.6,289.4 819.0,276.3 824.4,256.0 827.5,253.5 834.2,248.1 842.6,240.0 848.1,230.0 854.1,209.4 860.1,197.5 866.1,197.5 872.1,186.0 876.8,186.0 883.3,192.0 890.0,185.5 895.5,170.0 901.5,181.5 907.2,170.5 924.7,170.5 930.6,158.5 936.6,154.5 942.6,159.2 948.6,154.5 954.6,154.5 960.5,148.5 966.5,148.5 972.5,143.2 977.3,143.2 983.2,138.4 989.2,138.4 995.0,132.9" fill="none" stroke="#800080" stroke-width="1" stroke-linejoin="miter" stroke-linecap="square"/>
<polyline points="498.6,602.0 505.1,559.5 511.6,566.9 517.1,602.0 522.9,602.0 529.4,566.9 535.8,557.9 542.3,540.7 547.2,540.7 552.7,549.8 558.5,540.1 564.9,515.8 570.8,540.7 582.1,506.1 588.6,540.7 594.4,549.0 600.5,558.8 606.3,541.7 611.8,575.7 617.3,566.9 623.2,541.7 629.6,540.7 635.4,524.3 641.6,541.2 647.9,513.8 653.2,506.4 659.5,531.7 665.4,515.9 671.1,524.3 676.4,515.9 682.3,559.1 688.6,515.9 694.3,559.1 700.6,541.2 706.3,559.1 712.2,550.2 718.1,550.2 724.5,524.3 735.4,559.1 741.3,550.2 747.0,524.3 753.3,559.1 759.0,550.2 765.5,506.4 771.4,541.3 777.7,541.3 783.2,557.6 789.1,585.2 800.4,585.2 806.3,567.5 812.2,567.5 818.1,585.2 824.0,601.5 830.5,576.3 835.8,576.3 841.7,592.1 847.6,602.0" fill="none" stroke="#000080" stroke-width="1" stroke-linejoin="miter" stroke-linecap="square"/>
<polyline points="498.6,602.0 505.1,592.8 511.6,602.0 535.8,602.0 541.7,593.5 547.2,602.0 552.7,593.5 558.5,602.0 564.9,593.5 570.8,602.0 582.1,572.4 588.6,598.3 600.5,599.9 611.8,602.0 623.2,596.0 630.0,593.2 635.3,591.1 641.6,591.1 647.9,587.6 653.2,571.3 659.5,592.4 665.4,595.6 671.1,591.8 676.4,593.2 682.3,597.0 688.6,587.6 694.3,600.8 700.6,591.1 706.3,597.0 712.2,600.8 718.1,598.1 724.5,591.1 730.1,597.0 735.4,597.0 741.3,592.4 747.0,593.9 753.3,599.2 759.0,598.1 765.5,577.3 771.4,594.4 777.3,588.5 783.2,601.5 807.3,601.5 812.2,600.3 817.1,601.5" fill="none" stroke="#000" stroke-width="1" stroke-linejoin="miter" stroke-linecap="square"/>
</g>
<rect x="150" y="61" width="852" height="2" fill="#808080"/>
<rect x="150" y="61" width="2" height="542" fill="#808080"/>
<rect x="150" y="601" width="852" height="2" fill="#808080"/>
<rect x="1000" y="61" width="2" height="542" fill="#808080"/>
<rect x="995" y="63" width="1" height="539" fill="#808080"/>
<rect x="151" y="603" width="1" height="4" fill="#808080"/>
<text x="152" y="621" fill="#000" text-anchor="middle" font-size="11" font-weight="normal" >00:00</text>
<rect x="186" y="603" width="1" height="4" fill="#808080"/>
<text x="187" y="621" fill="#000" text-anchor="middle" font-size="11" font-weight="normal" >01:00</text>
<rect x="222" y="603" width="1" height="4" fill="#808080"/>
<text x="223" y="621" fill="#000" text-anchor="middle" font-size="11" font-weight="normal" >02:00</text>
<rect x="257" y="603" width="1" height="4" fill="#808080"/>
<text x="258" y="621" fill="#000" text-anchor="middle" font-size="11" font-weight="normal" >03:00</text>
<rect x="293" y="603" width="1" height="4" fill="#808080"/>
<text x="294" y="621" fill="#000" text-anchor="middle" font-size="11" font-weight="normal" >04:00</text>
<rect x="328" y="603" width="1" height="4" fill="#808080"/>
<text x="329" y="621" fill="#000" text-anchor="middle" font-size="11" font-weight="normal" >05:00</text>
<rect x="363" y="603" width="1" height="4" fill="#808080"/>
<text x="364" y="621" fill="#000" text-anchor="middle" font-size="11" font-weight="normal" >06:00</text>
<rect x="399" y="603" width="1" height="4" fill="#808080"/>
<text x="400" y="621" fill="#000" text-anchor="middle" font-size="11" font-weight="normal" >07:00</text>
<rect x="434" y="603" width="1" height="4" fill="#808080"/>
<text x="435" y="621" fill="#000" text-anchor="middle" font-size="11" font-weight="normal" >08:00</text>
<rect x="470" y="603" width="1" height="4" fill="#808080"/>
<text x="471" y="621" fill="#000" text-anchor="middle" font-size="11" font-weight="normal" >09:00</text>
<rect x="505" y="603" width="1" height="4" fill="#808080"/>
<text x="506" y="621" fill="#000" text-anchor="middle" font-size="11" font-weight="normal" >10:00</text>
<rect x="541" y="603" width="1" height="4" fill="#808080"/>
<text x="542" y="621" fill="#000" text-anchor="middle" font-size="11" font-weight="normal" >11:00</text>
<rect x="576" y="603" width="1" height="4" fill="#808080"/>
<text x="577" y="621" fill="#000" text-anchor="middle" font-size="11" font-weight="normal" >12:00</text>
<rect x="611" y="603" width="1" height="4" fill="#808080"/>
<text x="612" y="621" fill="#000" text-anchor="middle" font-size="11" font-weight="normal" >13:00</text>
<rect x="647" y="603" width="1" height="4" fill="#808080"/>
<text x="648" y="621" fill="#000" text-anchor="middle" font-size="11" font-weight="normal" >14:00</text>
<rect x="682" y="603" width="1" height="4" fill="#808080"/>
<text x="683" y="621" fill="#000" text-anchor="middle" font-size="11" font-weight="normal" >15:00</text>
<rect x="718" y="603" width="1" height="4" fill="#808080"/>
<text x="719" y="621" fill="#000" text-anchor="middle" font-size="11" font-weight="normal" >16:00</text>
<rect x="753" y="603" width="1" height="4" fill="#808080"/>
<text x="754" y="621" fill="#000" text-anchor="middle" font-size="11" font-weight="normal" >17:00</text>
<rect x="789" y="603" width="1" height="4" fill="#808080"/>
<text x="790" y="621" fill="#000" text-anchor="middle" font-size="11" font-weight="normal" >18:00</text>
<rect x="824" y="603" width="1" height="4" fill="#808080"/>
<text x="825" y="621" fill="#000" text-anchor="middle" font-size="11" font-weight="normal" >19:00</text>
<rect x="859" y="603" width="1" height="4" fill="#808080"/>
<text x="860" y="621" fill="#000" text-anchor="middle" font-size="11" font-weight="normal" >20:00</text>
<rect x="895" y="603" width="1" height="4" fill="#808080"/>
<text x="896" y="621" fill="#000" text-anchor="middle" font-size="11" font-weight="normal" >21:00</text>
<rect x="930" y="603" width="1" height="4" fill="#808080"/>
<text x="931" y="621" fill="#000" text-anchor="middle" font-size="11" font-weight="normal" >22:00</text>
<rect x="966" y="603" width="1" height="4" fill="#808080"/>
<text x="967" y="621" fill="#000" text-anchor="middle" font-size="11" font-weight="normal" >23:00</text>
<rect x="1001" y="603" width="1" height="4" fill="#808080"/>
<text x="1002" y="621" fill="#000" text-anchor="middle" font-size="11" font-weight="normal" >24:00</text>
<rect x="345" y="598" width="2" height="13" fill="#FFFF00"/>
<rect x="910" y="598" width="2" height="13" fill="#FFFF00"/>
<text x="339" y="632" fill="#000" text-anchor="end" font-size="11" font-weight="normal" >05:29</text>
<g stroke="#FFFFB0" stroke-width="1"><line x1="341" y1="623" x2="351" y2="633"/><line x1="351" y1="623" x2="341" y2="633"/><line x1="340" y1="628" x2="352" y2="628"/><line x1="346" y1="622" x2="346" y2="634"/></g>
<circle cx="346" cy="628" r="3" fill="#FFFF00"/>
<text x="904" y="632" fill="#000" text-anchor="end" font-size="11" font-weight="normal" >21:26</text>
<rect x="908.5" y="625.5" width="5" height="5" fill="none" stroke="#FFFF00" stroke-width="1"/>
<text x="10" y="632" fill="#000" text-anchor="start" font-size="11" font-weight="normal" >15:56</text>
<rect x="40" y="628" width="9" height="3" fill="#FFFF00"/>
<rect x="41" y="626" width="7" height="2" fill="#FFFF00"/>
<rect x="43" y="625" width="3" height="1" fill="#FFFF00"/>
<rect x="1" y="639" width="1151" height="72" fill="#CEFAF7"/>
<rect x="1151" y="639" width="1" height="72" fill="#A0A0A0"/>
<rect x="87" y="639" width="1" height="72" fill="#FFFFFF"/>
<rect x="88" y="639" width="1" height="72" fill="#A4A094"/>
<rect x="204" y="639" width="1" height="72" fill="#FFFFFF"/>
<rect x="205" y="639" width="1" height="72" fill="#A4A094"/>
<rect x="322" y="639" width="1" height="72" fill="#FFFFFF"/>
<rect x="323" y="639" width="1" height="72" fill="#A4A094"/>
<rect x="440" y="639" width="1" height="72" fill="#FFFFFF"/>
<rect x="441" y="639" width="1" height="72" fill="#A4A094"/>
<rect x="558" y="639" width="1" height="72" fill="#FFFFFF"/>
<rect x="559" y="639" width="1" height="72" fill="#A4A094"/>
<rect x="676" y="639" width="1" height="72" fill="#FFFFFF"/>
<rect x="677" y="639" width="1" height="72" fill="#A4A094"/>
<rect x="794" y="639" width="1" height="72" fill="#FFFFFF"/>
<rect x="795" y="639" width="1" height="72" fill="#A4A094"/>
<text x="8" y="656" fill="#000" font-size="11" font-weight="bold" textLength="40" lengthAdjust="spacing">Sensor</text>
<text x="8" y="672" fill="#000" font-size="11" font-weight="bold" textLength="48" lengthAdjust="spacing">MinWert</text>
<text x="8" y="688" fill="#000" font-size="11" font-weight="bold" textLength="52" lengthAdjust="spacing">MaxWert</text>
<text x="8" y="704" fill="#000" font-size="11" font-weight="bold" textLength="73" lengthAdjust="spacing">Durchschnitt</text>
<text x="95" y="656" fill="#000" font-size="11" font-weight="bold" textLength="50" lengthAdjust="spacing">Temp. A.</text>
<text x="198" y="656" fill="#000" text-anchor="end" font-size="11" font-weight="bold" >°C</text>
<text x="101" y="672" fill="#000" text-anchor="start" font-size="11" font-weight="normal" >04:00</text>
<text x="198" y="672" fill="#000" text-anchor="end" font-size="11" font-weight="normal" >18.6</text>
<text x="101" y="688" fill="#000" text-anchor="start" font-size="11" font-weight="normal" >17:40</text>
<text x="198" y="688" fill="#000" text-anchor="end" font-size="11" font-weight="normal" >29.6</text>
<text x="198" y="704" fill="#000" text-anchor="end" font-size="11" font-weight="normal" >22.76</text>
<text x="212" y="656" fill="#000" font-size="11" font-weight="bold" textLength="62" lengthAdjust="spacing">Feuchte A.</text>
<text x="316" y="656" fill="#000" text-anchor="end" font-size="11" font-weight="bold" >%</text>
<text x="218" y="672" fill="#000" text-anchor="start" font-size="11" font-weight="normal" >16:50</text>
<text x="316" y="672" fill="#000" text-anchor="end" font-size="11" font-weight="normal" >55</text>
<text x="218" y="688" fill="#000" text-anchor="start" font-size="11" font-weight="normal" >11:10</text>
<text x="316" y="688" fill="#000" text-anchor="end" font-size="11" font-weight="normal" >90</text>
<text x="316" y="704" fill="#000" text-anchor="end" font-size="11" font-weight="normal" >78</text>
<text x="330" y="656" fill="#000" font-size="11" font-weight="bold" textLength="55" lengthAdjust="spacing">Luftdruck</text>
<text x="434" y="656" fill="#000" text-anchor="end" font-size="11" font-weight="bold" >hPa</text>
<text x="336" y="672" fill="#000" text-anchor="start" font-size="11" font-weight="normal" >23:40</text>
<text x="434" y="672" fill="#000" text-anchor="end" font-size="11" font-weight="normal" >1012.9</text>
<text x="336" y="688" fill="#000" text-anchor="start" font-size="11" font-weight="normal" >10:40</text>
<text x="434" y="688" fill="#000" text-anchor="end" font-size="11" font-weight="normal" >1016.2</text>
<text x="330" y="704" fill="#000" text-anchor="start" font-size="11" font-weight="normal" >^0.7hPa/h</text>
<text x="434" y="704" fill="#000" text-anchor="end" font-size="11" font-weight="normal" >1014.9</text>
<text x="448" y="656" fill="#000" font-size="11" font-weight="bold" textLength="30" lengthAdjust="spacing">Wind</text>
<text x="523" y="656" fill="#000" font-size="11" font-weight="bold" textLength="29" lengthAdjust="spacing">km/h</text>
<text x="448" y="672" fill="#000" text-anchor="start" font-size="11" font-weight="normal" >Ø 10 min.</text>
<text x="552" y="672" fill="#000" text-anchor="end" font-size="11" font-weight="normal" >0.0</text>
<text x="454" y="688" fill="#000" text-anchor="start" font-size="11" font-weight="normal" >14:10</text>
<text x="552" y="688" fill="#000" text-anchor="end" font-size="11" font-weight="normal" >S-SW 5.7</text>
<text x="454" y="704" fill="#000" text-anchor="start" font-size="11" font-weight="normal" >0,5 km</text>
<text x="552" y="704" fill="#000" text-anchor="end" font-size="11" font-weight="normal" >0.4</text>
<text x="566" y="656" fill="#000" font-size="11" font-weight="bold" textLength="52" lengthAdjust="spacing">Richtung</text>
<text x="670" y="656" fill="#000" text-anchor="end" font-size="11" font-weight="bold" ></text>
<text x="572" y="672" fill="#000" text-anchor="start" font-size="11" font-weight="normal" >00:00</text>
<text x="670" y="672" fill="#000" text-anchor="end" font-size="11" font-weight="normal" >N</text>
<text x="572" y="688" fill="#000" text-anchor="start" font-size="11" font-weight="normal" >20:20</text>
<text x="670" y="688" fill="#000" text-anchor="end" font-size="11" font-weight="normal" >N-NW</text>
<text x="670" y="704" fill="#000" text-anchor="end" font-size="11" font-weight="normal" >S-SW</text>
<text x="684" y="656" fill="#000" font-size="11" font-weight="bold" textLength="38" lengthAdjust="spacing">Regen</text>
<text x="788" y="656" fill="#000" text-anchor="end" font-size="11" font-weight="bold" >l/m²</text>
<text x="690" y="688" fill="#000" text-anchor="start" font-size="11" font-weight="normal" >06:20</text>
<text x="788" y="688" fill="#000" text-anchor="end" font-size="11" font-weight="normal" >0.4</text>
<text x="684" y="704" fill="#000" text-anchor="start" font-size="11" font-weight="normal" >Gesamt:</text>
<text x="788" y="704" fill="#000" text-anchor="end" font-size="11" font-weight="normal" >1.5</text>
<text x="920" y="656" fill="#000" font-size="11" font-weight="bold" textLength="58" lengthAdjust="spacing">PMV+3:29</text>
<text x="920" y="672" fill="#000" text-anchor="start" font-size="11" font-weight="normal" >WC 20.9 °C</text>
<text x="920" y="688" fill="#000" text-anchor="start" font-size="11" font-weight="normal" >TP 18.7 °C</text>
<text x="920" y="704" fill="#000" text-anchor="start" font-size="11" font-weight="normal" >-0.6hPa/3h</text>
</svg>
</body></html>
